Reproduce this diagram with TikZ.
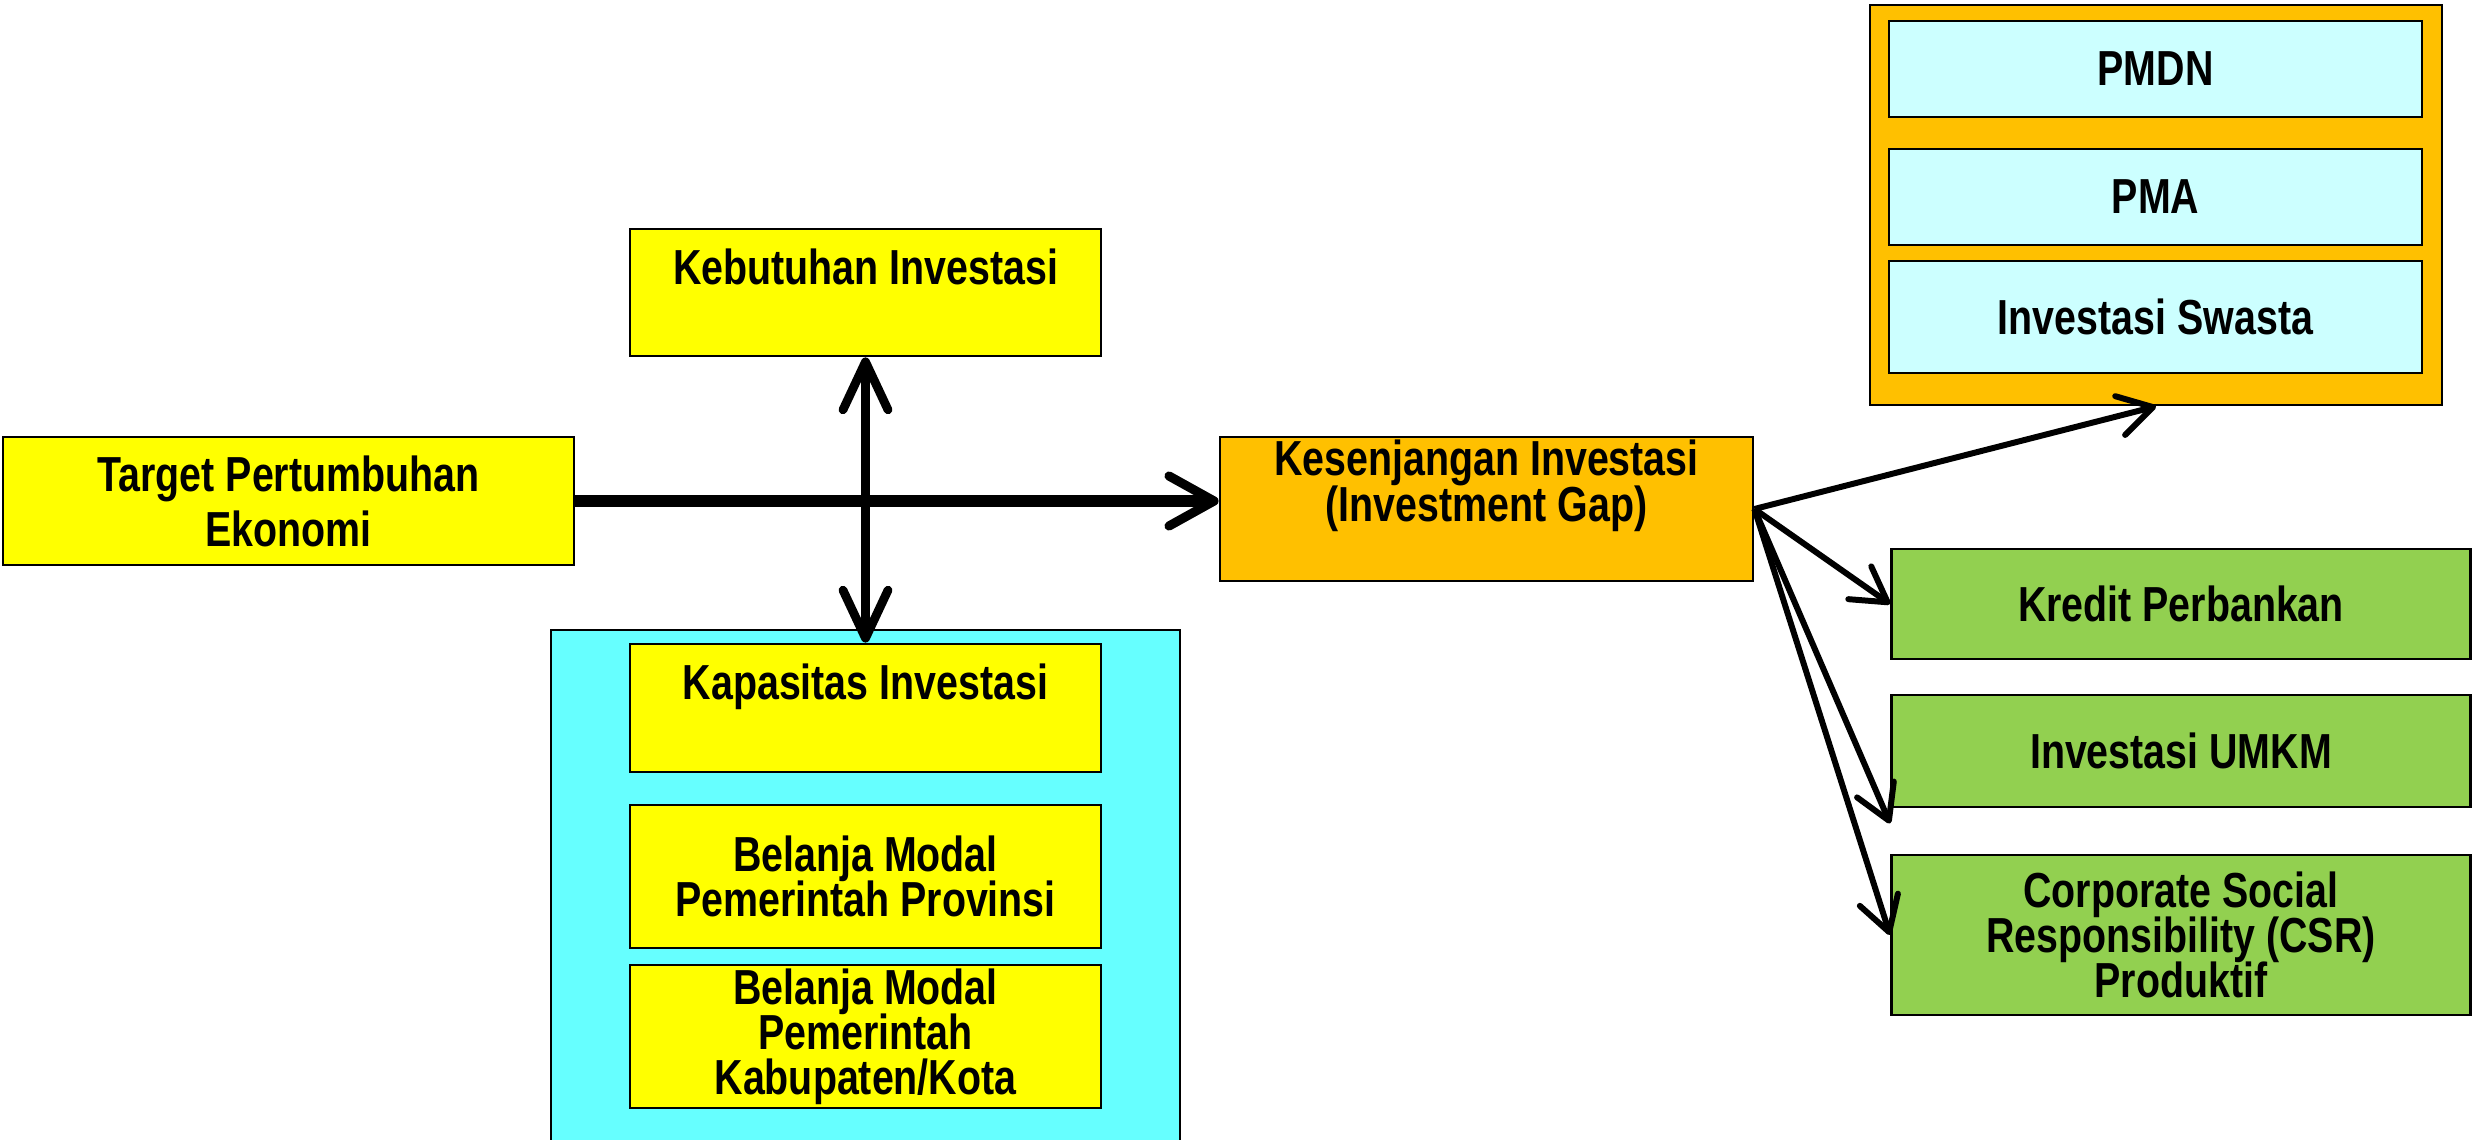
\documentclass[tikz,border=0pt]{standalone}
\usepackage{fontspec}
\setmainfont{Liberation Sans}[FakeStretch=0.8]
\usepackage{xcolor}
\usepackage{tikz}
\usetikzlibrary{arrows.meta}

\definecolor{boxyellow}{HTML}{FFFF00}
\definecolor{boxcyan}{HTML}{66FFFF}
\definecolor{boxlightcyan}{HTML}{CCFFFF}
\definecolor{boxorange}{HTML}{FFC000}
\definecolor{boxgreen}{HTML}{92D050}

\newcommand{\boxfont}[1]{\fontsize{14}{#1}\selectfont\bfseries\lineskiplimit=-100pt}

\begin{document}
\begin{tikzpicture}[
    every node/.style={draw, rectangle, line width=0.8pt, inner sep=0pt, align=center, font=\boxfont{12.8}}, % Plain boxes
    yellowbox/.style={fill=boxyellow, minimum width=4.71cm},
    swastabox/.style={fill=boxlightcyan, minimum width=5.33cm},
    greenbox/.style={fill=boxgreen, minimum width=5.79cm},
    edge/.style={-{Straight Barb[length=0.34cm, width=0.4cm, round]}, line width=1.7pt},
    mainedge/.style={-{Straight Barb[length=0.45cm, width=0.5cm, round, line width=2.6pt]}, line width=3.4pt},
    dualedge/.style={{Straight Barb[length=0.48cm, width=0.45cm, round]}-{Straight Barb[length=0.48cm, width=0.45cm, round]}, line width=2.5pt}
]

\useasboundingbox (0,0) rectangle (24.81,11.39);

% Group backgrounds
\node[fill=boxcyan, minimum width=6.29cm, minimum height=5.19cm] (kapasitasgroup) at (8.655, 2.495) {};
\node[fill=boxorange, minimum width=5.72cm, minimum height=4.0cm] (swastagroup) at (21.56, 9.34) {};

% Left side
\node[yellowbox, minimum width=5.71cm, minimum height=1.28cm, font=\boxfont{15.7}] (target) at (2.885, 6.38) {Target Pertumbuhan\\Ekonomi};
\node[yellowbox, minimum height=1.27cm, font=\boxfont{11.8}] (kebutuhan) at (8.655, 8.465) {Kebutuhan Investasi\\\phantom{Ag}};
\node[yellowbox, minimum height=1.28cm, font=\boxfont{11.8}] (kapasitas) at (8.655, 4.31) {Kapasitas Investasi\\\phantom{Ag}};
\node[yellowbox, minimum height=1.43cm] (provinsi) at (8.655, 2.625) {Belanja Modal\\Pemerintah Provinsi};
\node[yellowbox, minimum height=1.43cm] (kabkota) at (8.655, 1.025) {Belanja Modal\\Pemerintah\\Kabupaten/Kota};

% Middle
\node[fill=boxorange, minimum width=5.33cm, minimum height=1.44cm, font=\boxfont{13}] (kesenjangan) at (14.865, 6.30) {Kesenjangan Investasi\\(Investment Gap)\\\phantom{Ag}};

% Right side
\node[swastabox, minimum height=0.96cm] (pmdn) at (21.555, 10.70) {PMDN};
\node[swastabox, minimum height=0.96cm] (pma) at (21.555, 9.42) {PMA};
\node[swastabox, minimum height=1.12cm] (swasta) at (21.555, 8.22) {Investasi Swasta};
\node[greenbox, minimum height=1.10cm] (kredit) at (21.81, 5.35) {Kredit Perbankan};
\node[greenbox, minimum height=1.12cm] (umkm) at (21.81, 3.88) {Investasi UMKM};
\node[greenbox, minimum height=1.60cm] (csr) at (21.81, 2.04) {Corporate Social\\Responsibility (CSR)\\Produktif};

\coordinate (umkmtip) at ([yshift=-0.15cm]umkm.south west);

% Edges
\draw[mainedge] (target.east) -- (target.east -| kesenjangan.west);
\draw[dualedge] (kebutuhan.south) -- (kapasitas.north);
\draw[edge] (kesenjangan.east) -- (swastagroup.south);
\draw[edge] (kesenjangan.east) -- (kredit.west);
\draw[edge] (kesenjangan.east) -- (umkmtip);
\draw[edge] (kesenjangan.east) -- (csr.west);

\end{tikzpicture}
\end{document}
